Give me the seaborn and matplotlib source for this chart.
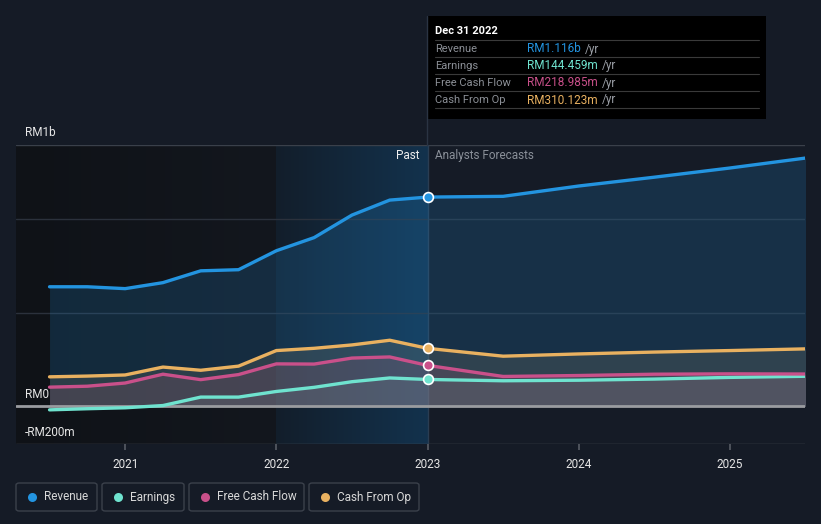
import numpy as np
import pandas as pd
import matplotlib
matplotlib.use("Agg")
import matplotlib.pyplot as plt
import seaborn as sns
from matplotlib.patches import FancyBboxPatch, Rectangle
from matplotlib.lines import Line2D

# ---------------- data (RM billions) ----------------
dates = [2020.5, 2020.75, 2021.0, 2021.25, 2021.5, 2021.75, 2022.0, 2022.25, 2022.5, 2022.75, 2023.0,
         2023.5, 2024.0, 2024.5, 2025.0, 2025.5]
revenue = [0.638, 0.638, 0.628, 0.660, 0.723, 0.729, 0.830, 0.900, 1.020, 1.100, 1.116,
           1.120, 1.175, 1.222, 1.271, 1.324]
earnings = [-0.018, -0.012, -0.007, 0.005, 0.050, 0.050, 0.080, 0.102, 0.132, 0.152, 0.144,
            0.137, 0.140, 0.146, 0.155, 0.161]
fcf = [0.103, 0.108, 0.125, 0.172, 0.143, 0.170, 0.227, 0.226, 0.258, 0.264, 0.219,
       0.160, 0.165, 0.172, 0.174, 0.173]
cfo = [0.158, 0.162, 0.168, 0.210, 0.193, 0.215, 0.298, 0.310, 0.328, 0.353, 0.310,
       0.268, 0.280, 0.290, 0.298, 0.307]
series_names = ["Revenue", "Earnings", "Free Cash Flow", "Cash From Op"]
tooltip_values = ["RM1.116b", "RM144.459m", "RM218.985m", "RM310.123m"]
year_ticks = [2021, 2022, 2023, 2024, 2025]
now = 2023.0

colors = {"Revenue": "#2394e0", "Earnings": "#6fe3cf", "Free Cash Flow": "#c9508a", "Cash From Op": "#e9b160"}

df = pd.DataFrame({"date": dates * 4,
                   "value": revenue + earnings + fcf + cfo,
                   "series": sum([[n] * len(dates) for n in series_names], [])})

# ---------------- figure ----------------
W, H = 821, 524
BG = "#151b26"
sns.set_theme(style="dark")
plt.rcParams["font.family"] = ["Roboto", "DejaVu Sans"]
fig = plt.figure(figsize=(W / 100, H / 100), dpi=100, facecolor=BG)

def fx(px):
    return px / W

def fy(py):
    return 1 - py / H

L, R, T, B = 16, 805, 145, 444
ax = fig.add_axes([fx(L), fy(B), fx(R) - fx(L), fy(T) - fy(B)])
ax.set_facecolor(BG)
x0 = 2021 - (125 - L) / 151
x1 = 2025 + (R - 730) / 151
ymin, ymax = -0.2, (407 - 145) / 188
ax.set_xlim(x0, x1)
ax.set_ylim(ymin, ymax)
for s in ax.spines.values():
    s.set_visible(False)

# past shading
grad = np.linspace(0, 1, 256).reshape(1, -1)
ax.imshow(grad, extent=[x0, 2022, ymin, ymax], aspect="auto", zorder=0,
          cmap=matplotlib.colors.LinearSegmentedColormap.from_list("p", ["#0f1217", "#13171e"]))
ax.imshow(grad, extent=[2022, now, ymin, ymax], aspect="auto", zorder=0,
          cmap=matplotlib.colors.LinearSegmentedColormap.from_list("h", ["#121e2b", "#13324d"]))

# grid lines
for yv in [0.5, 1.0]:
    ax.axhline(yv, color="#2b313c", lw=1, zorder=1)
ax.axhline(ymax - 0.001, color="#3a404a", lw=1, zorder=1)
ax.axhline(ymin + 0.001, color="#4a4f58", lw=1, zorder=1)

# fills
d = np.array(dates)
ax.fill_between(d, revenue, 0, color="#2394e0", alpha=0.18, lw=0, zorder=2)
ax.fill_between(d, cfo, 0, color="#7a7a6a", alpha=0.25, lw=0, zorder=2)
ax.fill_between(d, fcf, 0, color="#b0607e", alpha=0.18, lw=0, zorder=2)
ax.fill_between(d, earnings, 0, color="#8a9aa0", alpha=0.15, lw=0, zorder=2)

ax.axhline(0, color="#9a9ca0", lw=2, zorder=3)

sns.lineplot(data=df, x="date", y="value", hue="series", palette=colors, hue_order=series_names,
             lw=2.4, ax=ax, legend=False, zorder=4)

# dots at now
idx = dates.index(now)
for name, vals in zip(series_names, [revenue, earnings, fcf, cfo]):
    ax.scatter([now], [vals[idx]], s=50, color=colors[name], edgecolor="white", linewidth=1.2, zorder=6)

# vertical now line
ax.axvline(now, color="#2a3d52", lw=1, zorder=1)
fig.add_artist(Line2D([fx(427), fx(427)], [fy(16), fy(145)], color="#2a3443", lw=1))

# axes ticks
ax.set_xticks(year_ticks)
ax.set_xticklabels([str(y) for y in year_ticks], color="#e6e6e6", fontsize=8.5)
ax.tick_params(axis="x", length=4, color="#555a62", pad=6, direction="out", bottom=True)
ax.set_yticks([])
ax.set_xlabel("")
ax.set_ylabel("")

# y labels
for txt, py in [("RM1b", 132), ("RM0", 395), ("-RM200m", 432)]:
    fig.text(fx(25), fy(py), txt, color="#e6e6e6", fontsize=8.5, va="center", ha="left")

fig.text(fx(419), fy(156), "Past", color="#eeeeee", fontsize=8.5, va="center", ha="right")
fig.text(fx(435), fy(156), "Analysts Forecasts", color="#8a9099", fontsize=8.5, va="center", ha="left")

# tooltip
fig.add_artist(Rectangle((fx(427), fy(119)), fx(766) - fx(427), fy(16) - fy(119),
                         facecolor="#000000", edgecolor="none", transform=fig.transFigure))
fig.text(fx(435), fy(31), "Dec 31 2022", color="white", fontsize=8, fontweight="bold", va="center")
rows_y = [49, 66, 83, 100]
renderer = fig.canvas.get_renderer()
for i, (name, val, ry) in enumerate(zip(series_names, tooltip_values, rows_y)):
    fig.add_artist(Line2D([fx(435), fx(759)], [fy(ry - 9), fy(ry - 9)], color="#3a3a3a", lw=0.8))
    fig.text(fx(435), fy(ry), name, color="#8b8f96", fontsize=8, va="center")
    t = fig.text(fx(527), fy(ry), val, color=colors[name], fontsize=8.5, va="center")
    bb = t.get_window_extent(renderer=renderer)
    fig.text(fx(bb.x1 + 4), fy(ry), "/yr", color="#9a9ea5", fontsize=8.5, va="center")
fig.add_artist(Line2D([fx(435), fx(759)], [fy(108), fy(108)], color="#3a3a3a", lw=0.8))

# legend boxes
boxes = [(16, 97), (102, 184), (189, 304), (309, 419)]
for name, (bx0, bx1) in zip(series_names, boxes):
    fig.add_artist(FancyBboxPatch((fx(bx0), fy(511)), fx(bx1) - fx(bx0), fy(483) - fy(511),
                                  boxstyle="round,pad=0,rounding_size=0.004", facecolor="none",
                                  edgecolor="#3b414b", lw=1, transform=fig.transFigure))
    fig.add_artist(Line2D([fx(bx0 + 16)], [fy(497)], marker="o", markersize=6.5, color=colors[name],
                          markeredgewidth=0, transform=fig.transFigure))
    fig.text(fx(bx0 + 28), fy(497), name, color="#d8d8d8", fontsize=8.5, va="center")

fig.savefig("out.png", dpi=100, facecolor=BG)
